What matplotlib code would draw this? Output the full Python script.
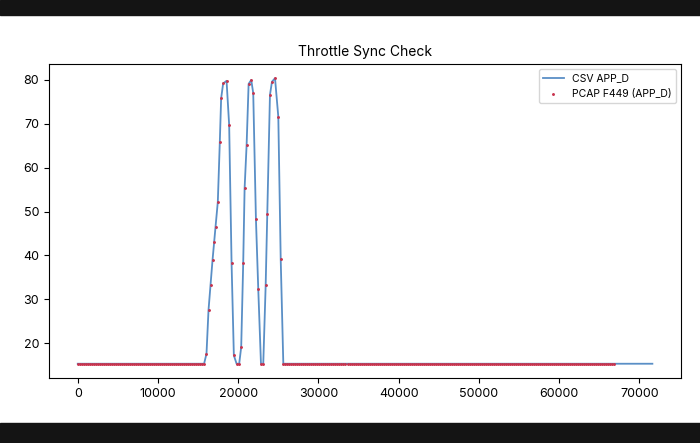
import numpy as np
import matplotlib.pyplot as plt
from matplotlib.patches import Rectangle

plt.rcParams['font.family'] = ['Inter', 'DejaVu Sans']

baseline = 15.3
# peak section (time, value)
peak_t = [16050, 16300, 16550, 16800, 17000, 17175, 17460, 17710, 17875, 18125,
          18550, 18875, 19175, 19460, 19800, 20125, 20375, 20625, 20800, 21050,
          21300, 21625, 21875, 22210, 22500, 22840, 23125, 23425, 23625, 23960,
          24210, 24590, 25000, 25300, 25625]
peak_v = [17.6, 27.5, 33.2, 38.9, 43.1, 46.5, 52.2, 65.9, 75.8, 79.2,
          79.8, 69.7, 38.2, 17.2, 15.3, 15.3, 19.1, 38.2, 55.3, 65.2,
          79.1, 80.0, 77.0, 48.4, 32.4, 15.3, 15.3, 33.2, 49.4, 76.6,
          79.6, 80.4, 71.6, 39.1, 15.3]

pre_t = np.arange(0, 16000, 250)
post_csv_t = np.arange(25875, 71800, 250)
post_pcap_t = np.arange(25875, 67000, 250)

csv_t = np.concatenate([pre_t, peak_t, post_csv_t])
csv_v = np.concatenate([np.full(len(pre_t), baseline), peak_v, np.full(len(post_csv_t), baseline)])
pcap_t = np.concatenate([pre_t, peak_t, post_pcap_t])
pcap_v = np.concatenate([np.full(len(pre_t), baseline), peak_v, np.full(len(post_pcap_t), baseline)])

fig = plt.figure(figsize=(7, 4.43), dpi=100)
fig.patches.append(Rectangle((0, 1 - 15 / 443), 1, 15 / 443, transform=fig.transFigure, color='#141414', zorder=-1))
fig.patches.append(Rectangle((0, 0), 1, 20 / 443, transform=fig.transFigure, color='#141414', zorder=-1))

ax = fig.add_axes([0.07, 0.1467, 0.903, 0.709])
ax.plot(csv_t, csv_v, color='#5a8fc6', lw=1.3, label='CSV APP_D')
ax.scatter(pcap_t, pcap_v, s=1.2, color='#c8344e', zorder=3, label='PCAP F449 (APP_D)')
ax.set_title('Throttle Sync Check', fontsize=10)
ax.tick_params(labelsize=9)
ax.legend(loc='upper right', fontsize=7.5)

fig.savefig('out.png')
